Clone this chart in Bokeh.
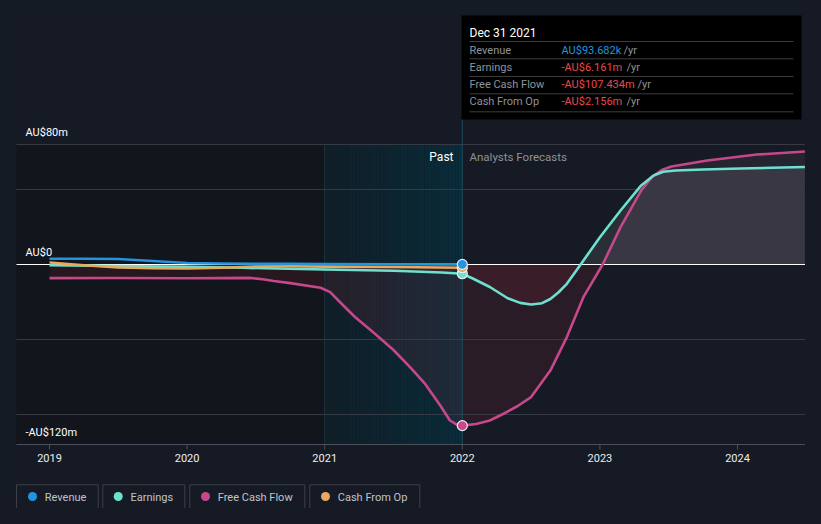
import numpy as np
from bokeh.plotting import figure
from bokeh.models import Range1d
from bokeh.embed import file_html
from bokeh.resources import INLINE
from bokeh.core.properties import value

# ---------------- data (AU$ millions, decimal years) ----------------
series_names = ["Revenue", "Earnings", "Free Cash Flow", "Cash From Op"]
series_colors = ["#2394df", "#6ee0cf", "#c6478a", "#e8a95b"]

rev_t = [2019.0, 2019.25, 2019.5, 2019.75, 2020.0, 2020.25, 2020.5, 2020.75, 2021.0, 2021.5, 2022.0]
rev_v = [3.8, 3.8, 3.7, 2.3, 1.0, 0.7, 0.5, 0.4, 0.3, 0.2, 0.094]

earn_t = [2019.0, 2019.5, 2020.0, 2020.4, 2021.0, 2021.5, 2021.85, 2022.0,
          2022.08, 2022.2, 2022.33, 2022.42, 2022.5, 2022.58, 2022.64, 2022.7, 2022.76, 2022.86,
          2023.0, 2023.15, 2023.3, 2023.39, 2023.46, 2023.55, 2023.75, 2024.02, 2024.25, 2024.49]
earn_v = [-0.5, -1.0, -1.5, -2.2, -3.3, -4.2, -5.3, -6.161,
          -9.5, -15.0, -22.5, -25.6, -26.7, -25.8, -23.0, -18.5, -12.9, 0.0,
          18.2, 36.0, 52.7, 59.3, 61.8, 62.7, 63.3, 64.0, 64.5, 65.0]

fcf_t = [2019.0, 2019.5, 2020.0, 2020.45, 2020.55, 2020.63, 2020.75, 2020.97, 2021.04, 2021.11, 2021.22,
         2021.35, 2021.5, 2021.62, 2021.73, 2021.84, 2021.91, 2021.96, 2022.0,
         2022.1, 2022.2, 2022.3, 2022.4, 2022.5, 2022.64, 2022.76, 2022.88, 2023.02, 2023.15, 2023.3,
         2023.38, 2023.45, 2023.52, 2023.78, 2024.14, 2024.49]
fcf_v = [-9.1, -9.0, -9.2, -8.9, -9.8, -11.0, -12.4, -15.5, -18.4, -25.0, -35.0,
         -45.0, -57.0, -68.4, -79.6, -94.0, -104.0, -106.8, -107.434,
         -106.3, -104.0, -99.5, -94.5, -88.4, -70.7, -48.4, -21.8, 0.0, 24.9, 49.3,
         58.5, 63.0, 65.3, 69.3, 73.3, 75.3]

cfo_t = [2019.0, 2019.25, 2019.5, 2019.75, 2020.0, 2020.25, 2020.5, 2020.75, 2021.0, 2021.5, 2022.0]
cfo_v = [1.3, -0.5, -2.0, -2.5, -2.7, -2.2, -1.3, -1.2, -1.4, -1.7, -2.156]

year_ticks = [2019, 2020, 2021, 2022, 2023, 2024]
year_labels = ["2019", "2020", "2021", "2022", "2023", "2024"]
grid_vals = [80, 50, -50, -100]
y_label_vals = [80, 0, -120]
y_labels = ["AU$80m", "AU$0", "-AU$120m"]
y_min, y_max = -120, 80
past_start, past_end = 2021.0, 2022.0

tip_date = "Dec 31 2021"
tip_date_year = 2022.0
tip_values = ["AU$93.682k", "-AU$6.161m", "-AU$107.434m", "-AU$2.156m"]
tip_value_colors = ["#2394df", "#e8484f", "#e8484f", "#e8484f"]
tip_points = [0.094, -6.161, -107.434, -2.156]

# ---------------- pixel helpers (image px -> data) ----------------
def X(px):
    return 2019 + (px - 49) / 137.6

def Y(py):
    return (264 - py) / 1.5

BG = "#151a24"
FONT = value("Roboto")

p = figure(width=805, height=508, output_backend="svg", toolbar_location=None,
           x_range=Range1d(X(0), X(805)), y_range=Range1d(Y(508), Y(0)),
           x_axis_type=None, y_axis_type=None, min_border=0)
p.background_fill_color = BG
p.border_fill_color = BG
p.outline_line_color = None
p.grid.visible = False

x_left, x_right = X(16), X(805)

# darker past region
p.quad(left=[x_left], right=[past_start], bottom=[y_min], top=[y_max],
       fill_color="#12151b", line_color=None)
# teal gradient for last-year region
n = 40
edges = np.linspace(past_start, past_end, n + 1)
c0 = np.array([16, 30, 39]); c1 = np.array([9, 44, 58])
cols = ["#%02x%02x%02x" % tuple(int(round(v)) for v in (c0 + (c1 - c0) * (i + 0.5) / n)) for i in range(n)]
p.quad(left=edges[:-1], right=edges[1:], bottom=y_min, top=y_max, fill_color=cols, line_color=None)

# area fills
ft = np.array(fcf_t); fv = np.array(fcf_v)
et = np.array(earn_t); ev = np.array(earn_v)
p.varea(x=ft, y1=0, y2=np.minimum(fv, 0), fill_color="#e03040", fill_alpha=0.10)
p.varea(x=ft, y1=0, y2=np.maximum(fv, 0), fill_color="#c890b8", fill_alpha=0.09)
p.varea(x=et, y1=0, y2=np.minimum(ev, 0), fill_color="#e03040", fill_alpha=0.09)
p.varea(x=et, y1=0, y2=np.maximum(ev, 0), fill_color="#ffffff", fill_alpha=0.09)

# gridlines
p.segment(x0=[x_left] * len(grid_vals), x1=[x_right] * len(grid_vals), y0=grid_vals, y1=grid_vals,
          line_color="#353a45", line_width=1)
# vertical separators
p.segment(x0=[past_start], x1=[past_start], y0=[y_min], y1=[y_max], line_color="#1a3440", line_width=1)
p.segment(x0=[past_end], x1=[past_end], y0=[y_min], y1=[Y(119)], line_color="#1d4a5a", line_width=1)
# x axis line + ticks
p.segment(x0=[x_left], x1=[x_right], y0=[y_min], y1=[y_min], line_color="#4a4f5a", line_width=1)
p.segment(x0=year_ticks, x1=year_ticks, y0=[y_min] * 6, y1=[Y(449)] * 6, line_color="#4a4f5a", line_width=1)
# zero line
p.segment(x0=[x_left], x1=[x_right], y0=[0], y1=[0], line_color="#ffffff", line_width=1.2)

# series lines
p.line(fcf_t, fcf_v, line_color=series_colors[2], line_width=2.6, line_join="round")
p.line(earn_t, earn_v, line_color=series_colors[1], line_width=2.6, line_join="round")
p.line(cfo_t, cfo_v, line_color=series_colors[3], line_width=2.6, line_join="round")
p.line(rev_t, rev_v, line_color=series_colors[0], line_width=2.6, line_join="round")

# markers at last reported point
p.scatter(x=[tip_date_year] * 4, y=[tip_points[1], tip_points[3], tip_points[0], tip_points[2]],
          fill_color=[series_colors[1], series_colors[3], series_colors[0], series_colors[2]],
          line_color="#e8eef2", line_width=1.2, size=10)

# y labels
p.text(x=[X(25)] * 3, y=[v + 8 for v in y_label_vals], text=y_labels, text_font=FONT,
       text_font_size="11px", text_color="#ffffff", text_baseline="middle", text_align="left")
# x labels
p.text(x=year_ticks, y=[Y(457)] * 6, text=year_labels, text_font=FONT, text_font_size="11px",
       text_color="#eeeeee", text_baseline="middle", text_align="center")
# Past / Analysts Forecasts
p.text(x=[X(453)], y=[Y(156)], text=["Past"], text_font=FONT, text_font_size="12px",
       text_color="#ffffff", text_baseline="middle", text_align="right")
p.text(x=[X(469)], y=[Y(156)], text=["Analysts Forecasts"], text_font=FONT, text_font_size="11.5px",
       text_color="#8d9299", text_baseline="middle", text_align="left")

# tooltip box
p.quad(left=[X(461)], right=[X(801)], top=[Y(15)], bottom=[Y(119)], fill_color="#000000", line_color=None)
sep_y = [Y(v) for v in (41, 58.3, 76, 93.3, 111.3)]
p.segment(x0=[X(469)] * 5, x1=[X(793)] * 5, y0=sep_y, y1=sep_y, line_color="#3c3c3c", line_width=1)
p.text(x=[X(469)], y=[Y(32)], text=[tip_date], text_font=FONT, text_font_size="12px",
       text_color="#ffffff", text_baseline="middle", text_align="left")
row_y = [Y(v) for v in (49.5, 66.8, 84.3, 101.3)]
p.text(x=[X(469)] * 4, y=row_y, text=series_names, text_font=FONT, text_font_size="11px",
       text_color="#8e939b", text_baseline="middle", text_align="left")
p.text(x=[X(561)] * 4, y=row_y, text=tip_values, text_font=FONT, text_font_size="11px",
       text_color=tip_value_colors, text_baseline="middle", text_align="left")
yr_x = [X(v) for v in (623, 626, 637, 626)]
p.text(x=yr_x, y=row_y, text=["/yr"] * 4, text_font=FONT, text_font_size="11px",
       text_color="#8e939b", text_baseline="middle", text_align="left")

# legend
lg_left = [X(v) for v in (16, 102.3, 189.3, 309.3)]
lg_right = [X(v) for v in (97.7, 184.3, 304.3, 419.3)]
p.quad(left=lg_left, right=lg_right, top=[Y(484.3)] * 4, bottom=[Y(511.3)] * 4,
       fill_color=None, line_color="#3b404b", line_width=1)
p.scatter(x=[X(v) for v in (32, 117.7, 205, 325)], y=[Y(496)] * 4, fill_color=series_colors,
          line_color=None, size=9)
p.text(x=[X(v) for v in (44.3, 130, 217.3, 337.3)], y=[Y(496.5)] * 4, text=series_names,
       text_font=FONT, text_font_size="11px", text_color="#c0c4ca", text_baseline="middle",
       text_align="left")

html = file_html(p, INLINE)
html = html.replace("<head>", "<head><style>html,body{background:%s;}</style>" % BG, 1)
open("out.html", "w").write(html)
